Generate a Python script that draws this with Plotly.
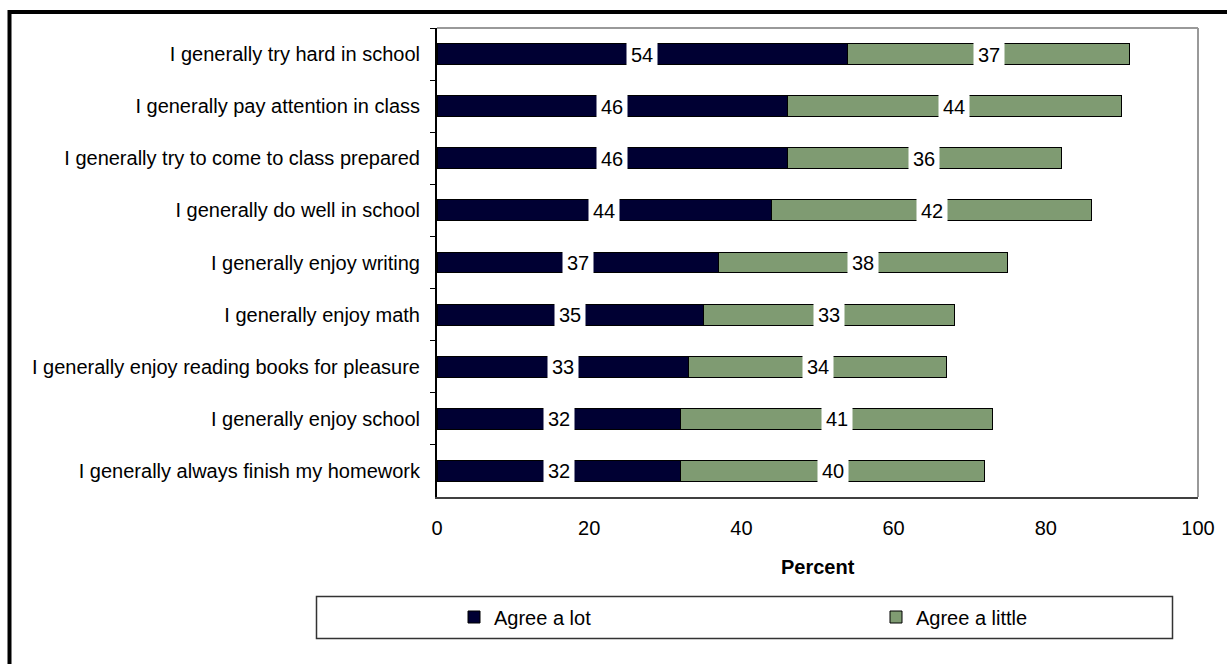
import plotly.graph_objects as go

categories = [
    "I generally try hard in school",
    "I generally pay attention in class",
    "I generally try to come to class prepared",
    "I generally do well in school",
    "I generally enjoy writing",
    "I generally enjoy math",
    "I generally enjoy reading books for pleasure",
    "I generally enjoy school",
    "I generally always finish my homework",
]
agree_lot = [54, 46, 46, 44, 37, 35, 33, 32, 32]
agree_little = [37, 44, 36, 42, 38, 33, 34, 41, 40]
x_ticks = [0, 20, 40, 60, 80, 100]

FONT = "Arial, Liberation Sans, sans-serif"
FS = 20
DARK = "#000033"
GREEN = "#7F9B72"

L, R, T, B = 437, 29, 28, 167
W, H = 1227, 664
pw, ph = W - L - R, H - T - B

def px_x(px):
    return (px - L) / pw

def px_y(py):
    return (H - B - py) / ph

fig = go.Figure()
fig.add_trace(go.Bar(
    y=categories, x=agree_lot, orientation="h", name="Agree a lot",
    marker=dict(color=DARK, line=dict(color="black", width=1)), width=0.4,
    legend="legend",
))
fig.add_trace(go.Bar(
    y=categories, x=agree_little, orientation="h", name="Agree a little",
    marker=dict(color=GREEN, line=dict(color="black", width=1)), width=0.4,
    legend="legend2",
))

annotations = []
for c, a, b in zip(categories, agree_lot, agree_little):
    for xm, v in ((a / 2, a), (a + b / 2, b)):
        annotations.append(dict(
            x=xm, y=c, xref="x", yref="y", text=str(v), showarrow=False,
            font=dict(family=FONT, size=FS, color="black"),
            bgcolor="white", width=28, height=21, borderpad=1,
            xanchor="center", yanchor="middle",
        ))

# axis title
annotations.append(dict(
    x=0.5, y=px_y(567), xref="paper", yref="paper", text="<b>Percent</b>",
    showarrow=False, font=dict(family=FONT, size=FS, color="black"),
    xanchor="center", yanchor="middle",
))

shapes = [
    dict(type="line", xref="paper", yref="paper", x0=0, x1=1, y0=1, y1=1,
         line=dict(color="#999999", width=2)),
    dict(type="line", xref="paper", yref="paper", x0=1, x1=1, y0=0, y1=1,
         line=dict(color="#999999", width=2)),
    dict(type="rect", xref="paper", yref="paper",
         x0=px_x(316.5), x1=px_x(1172.5), y0=px_y(638.5), y1=px_y(596.5),
         line=dict(color="#333333", width=1.5), fillcolor="rgba(0,0,0,0)"),
    dict(type="rect", xref="paper", yref="paper",
         x0=px_x(9.5), x1=px_x(1300), y0=px_y(720), y1=px_y(12),
         line=dict(color="black", width=4), fillcolor="rgba(0,0,0,0)"),
]

legend_common = dict(
    orientation="h", yanchor="middle", xanchor="left",
    bgcolor="rgba(0,0,0,0)", borderwidth=0,
    font=dict(family=FONT, size=FS, color="black"),
)

fig.update_layout(
    width=W, height=H,
    margin=dict(l=L, r=R, t=T, b=B, pad=0),
    barmode="stack",
    paper_bgcolor="white", plot_bgcolor="white",
    font=dict(family=FONT, size=FS, color="black"),
    showlegend=True,
    legend=dict(x=px_x(454), y=px_y(617), **legend_common),
    legend2=dict(x=px_x(876), y=px_y(617), **legend_common),
    xaxis=dict(
        range=[0, 100], tickvals=x_ticks, showgrid=False, zeroline=False,
        showline=True, linecolor="#404040", linewidth=2,
        ticks="", ticklabelstandoff=12,
        tickfont=dict(family=FONT, size=FS, color="black"),
    ),
    yaxis=dict(
        categoryorder="array", categoryarray=categories, autorange="reversed",
        showgrid=False, zeroline=False,
        showline=True, linecolor="black", linewidth=2,
        ticks="outside", ticklen=5, tickcolor="black", tickwidth=1,
        tickson="boundaries", ticklabelstandoff=11,
        tickfont=dict(family=FONT, size=FS, color="black"),
    ),
    annotations=annotations,
    shapes=shapes,
)

fig.write_html("out.html", config={"displayModeBar": False},
               post_script="document.body.style.margin='0';")
